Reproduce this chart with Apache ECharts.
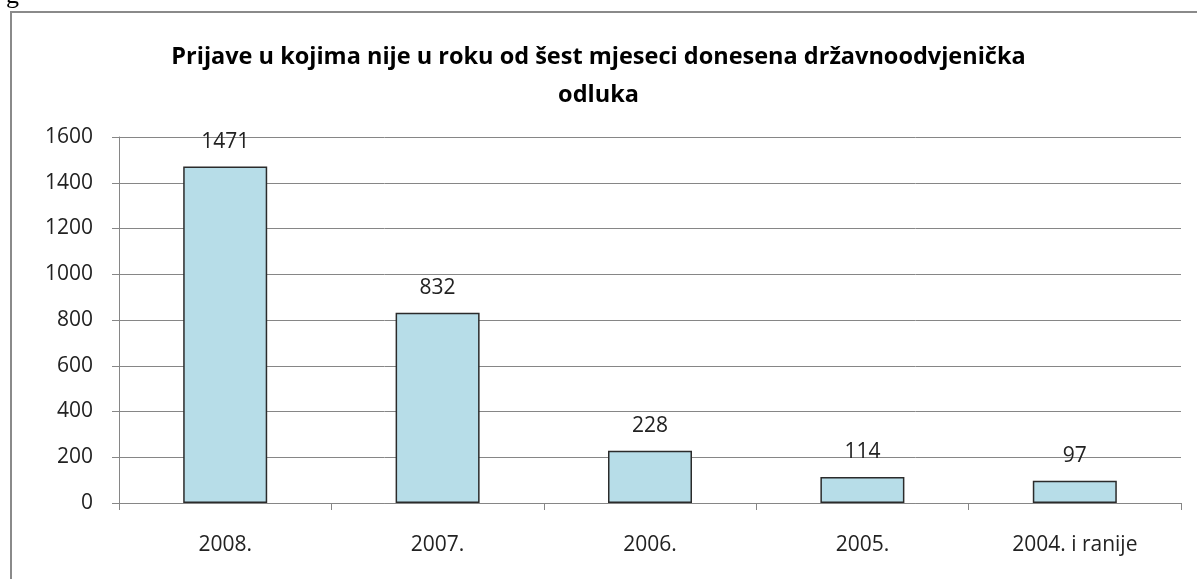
<!DOCTYPE html>
<html>
<head>
<meta charset="utf-8">
<script src="https://cdn.jsdelivr.net/npm/echarts@6/dist/echarts.min.js"></script>
<style>
  html, body { margin: 0; padding: 0; background: #fff; }
  #main { width: 1197px; height: 579px; }
</style>
</head>
<body>
<div id="main"></div>
<script>
const categories = ['2008.', '2007.', '2006.', '2005.', '2004. i ranije'];
const values = [1471, 832, 228, 114, 97];
const yTicks = { min: 0, max: 1600, interval: 200 };

const chart = echarts.init(document.getElementById('main'));
const font = '"Open Sans", "DejaVu Sans", sans-serif';

chart.setOption({
  animation: false,
  title: {
    text: 'Prijave u kojima nije u roku od šest mjeseci donesena državnoodvjenička\nodluka',
    left: 'center',
    top: 33,
    textStyle: { fontFamily: font, fontSize: 23.5, fontWeight: 'bold', color: '#000', lineHeight: 38 }
  },
  graphic: [
    {
      type: 'rect',
      shape: { x: 11, y: 12, width: 1200, height: 600 },
      style: { fill: 'none', stroke: '#8a8a8a', lineWidth: 2 },
      z: -1
    },
    {
      type: 'text',
      left: 6, top: -17,
      style: { text: 'g', font: '26px "Liberation Serif", serif', fill: '#000' }
    }
  ],
  grid: { left: 119, right: 16, top: 137, bottom: 76 },
  xAxis: {
    type: 'category',
    data: categories,
    axisLine: { lineStyle: { color: '#868686', width: 1 } },
    axisTick: { show: true, length: 7, lineStyle: { color: '#868686' } },
    axisLabel: { fontFamily: font, fontSize: 21, color: '#222', margin: 32 }
  },
  yAxis: {
    type: 'value',
    min: yTicks.min,
    max: yTicks.max,
    interval: yTicks.interval,
    axisLine: { show: true, lineStyle: { color: '#868686' } },
    axisTick: { show: true, length: 7, lineStyle: { color: '#868686' } },
    splitLine: { lineStyle: { color: '#868686', width: 1 } },
    axisLabel: { fontFamily: font, fontSize: 21, color: '#222', margin: 26, formatter: v => String(v) }
  },
  series: [{
    type: 'bar',
    data: values,
    barWidth: 84,
    itemStyle: { color: '#B7DDE8', borderColor: '#2b2b2b', borderWidth: 1.5 },
    label: {
      show: true,
      position: 'top',
      distance: 14,
      fontFamily: font,
      fontSize: 21,
      color: '#222'
    }
  }]
});
</script>
</body>
</html>
